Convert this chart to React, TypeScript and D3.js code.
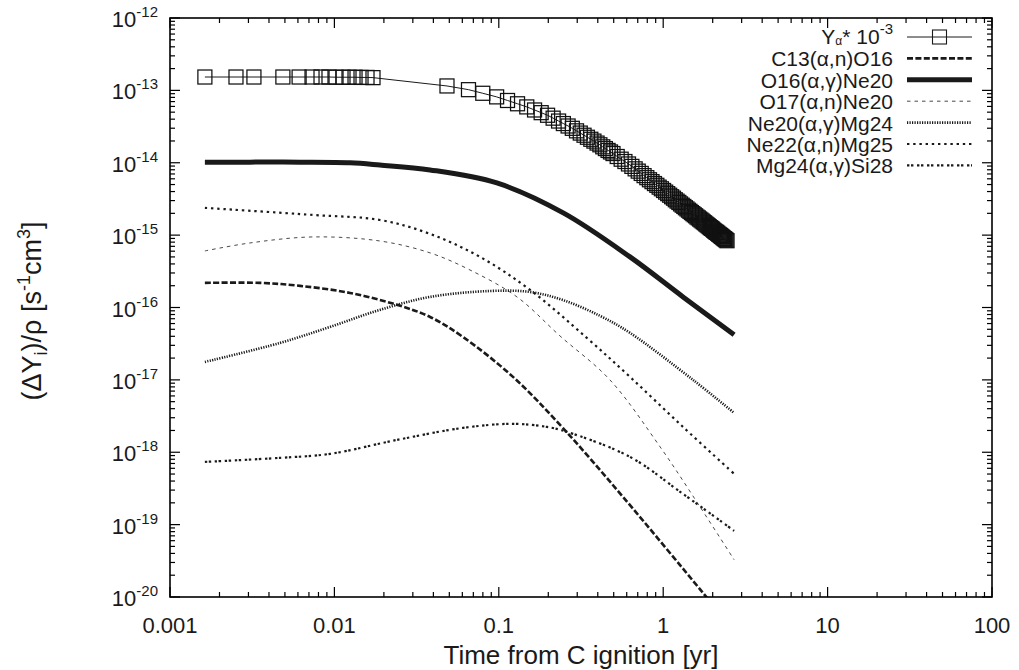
import React from 'react';
import * as d3 from 'd3';

const W = 1019, H = 670;
const PL = 170, PR = 992, PT = 18, PB = 597;
const FONT = 'Liberation Sans, Arial, Helvetica, sans-serif';

// X tick values / labels
const xTickVals = [0.001, 0.01, 0.1, 1, 10, 100];
const xTickLabels = ['0.001', '0.01', '0.1', '1', '10', '100'];
// Y tick exponents
const yTickExps = [-12, -13, -14, -15, -16, -17, -18, -19, -20];

// Y_alpha * 1e-3 (marker at each point)
const yaT = [0.00163, 0.00252, 0.00324, 0.00486, 0.0061, 0.00731, 0.00829, 0.00927, 0.01023, 0.01128, 0.01227, 0.01335, 0.01452, 0.01579, 0.01717,
  0.0484, 0.0654, 0.0799, 0.097, 0.113, 0.13, 0.148, 0.165, 0.181, 0.198, 0.214, 0.231, 0.247, 0.264, 0.28, 0.297, 0.313, 0.33, 0.346, 0.363, 0.379, 0.396, 0.412, 0.429, 0.445, 0.462, 0.478, 0.495,
  0.525, 0.555, 0.585, 0.615, 0.645, 0.675, 0.705, 0.735, 0.765, 0.795, 0.825, 0.855, 0.885, 0.915, 0.945, 0.975, 1.005, 1.035, 1.065, 1.095, 1.125, 1.155, 1.185, 1.215, 1.245, 1.275, 1.305, 1.335, 1.365, 1.395, 1.425, 1.455, 1.485, 1.515, 1.545, 1.575, 1.605, 1.635, 1.665, 1.695, 1.725, 1.755, 1.785, 1.815, 1.845, 1.875, 1.905, 1.935, 1.965, 1.995, 2.025, 2.055, 2.085, 2.115, 2.145, 2.175, 2.205, 2.235, 2.265, 2.295, 2.325, 2.355, 2.385, 2.415, 2.445];
const yaV = [1.53e-13, 1.53e-13, 1.53e-13, 1.53e-13, 1.53e-13, 1.53e-13, 1.53e-13, 1.53e-13, 1.52e-13, 1.52e-13, 1.52e-13, 1.52e-13, 1.51e-13, 1.51e-13, 1.50e-13,
  1.151e-13, 1.023e-13, 9.12e-14, 8.13e-14, 7.25e-14, 6.53e-14, 5.91e-14, 5.36e-14, 4.92e-14, 4.53e-14, 4.13e-14, 3.77e-14, 3.48e-14, 3.22e-14, 2.99e-14, 2.76e-14, 2.57e-14, 2.40e-14, 2.25e-14, 2.11e-14, 1.99e-14, 1.87e-14, 1.77e-14, 1.66e-14, 1.57e-14, 1.48e-14, 1.41e-14, 1.34e-14,
  1.22e-14, 1.12e-14, 1.04e-14, 9.62e-15, 8.91e-15, 8.24e-15, 7.66e-15, 7.12e-15, 6.64e-15, 6.22e-15, 5.82e-15, 5.48e-15, 5.16e-15, 4.88e-15, 4.60e-15, 4.37e-15, 4.14e-15, 3.93e-15, 3.74e-15, 3.56e-15, 3.39e-15, 3.24e-15, 3.08e-15, 2.95e-15, 2.83e-15, 2.70e-15, 2.59e-15, 2.49e-15, 2.39e-15, 2.30e-15, 2.21e-15, 2.13e-15, 2.05e-15, 1.98e-15, 1.91e-15, 1.85e-15, 1.78e-15, 1.73e-15, 1.67e-15, 1.62e-15, 1.57e-15, 1.52e-15, 1.48e-15, 1.43e-15, 1.39e-15, 1.35e-15, 1.31e-15, 1.27e-15, 1.24e-15, 1.21e-15, 1.17e-15, 1.14e-15, 1.11e-15, 1.09e-15, 1.06e-15, 1.03e-15, 1.01e-15, 9.84e-16, 9.60e-16, 9.38e-16, 9.14e-16, 8.95e-16, 8.75e-16, 8.55e-16, 8.37e-16];

const c13T = [0.00163, 0.00352, 0.00618, 0.01245, 0.024, 0.0382, 0.0605, 0.122, 0.245, 0.569, 1.746, 2.7];
const c13V = [2.19e-16, 2.19e-16, 1.99e-16, 1.59e-16, 1.09e-16, 7.4e-17, 3.92e-17, 1.10e-17, 2.17e-18, 2.42e-19, 1.14e-20, 3.4e-21];

const o16T = [0.00163, 0.00306, 0.00617, 0.01245, 0.0189, 0.0382, 0.0973, 0.2466, 0.628, 1.32, 2.7];
const o16V = [1.02e-14, 1.02e-14, 1.02e-14, 1.0e-14, 9.3e-15, 7.96e-15, 5.26e-15, 2.03e-15, 5.0e-16, 1.40e-16, 4.19e-17];

const o17T = [0.00163, 0.00307, 0.00741, 0.0189, 0.0382, 0.0668, 0.129, 0.2355, 0.474, 0.957, 1.675, 2.7];
const o17V = [6.05e-16, 7.8e-16, 9.44e-16, 8.3e-16, 5.68e-16, 3.30e-16, 1.40e-16, 4.05e-17, 1.0e-17, 1.19e-18, 1.76e-19, 3.27e-20];

const ne20T = [0.00163, 0.00467, 0.0094, 0.0189, 0.0382, 0.0883, 0.155, 0.245, 0.413, 0.628, 1.518, 2.7];
const ne20V = [1.77e-17, 3.24e-17, 5.39e-17, 9.27e-17, 1.40e-16, 1.69e-16, 1.64e-16, 1.27e-16, 7.66e-17, 4.46e-17, 1.0e-17, 3.5e-18];

const ne22T = [0.00163, 0.00741, 0.0189, 0.0382, 0.0769, 0.155, 0.343, 0.628, 1.319, 2.7];
const ne22V = [2.38e-15, 1.90e-15, 1.62e-15, 1.04e-15, 5.0e-16, 1.75e-16, 3.80e-17, 1.10e-17, 2.24e-18, 5.04e-19];

const mg24T = [0.00163, 0.00467, 0.0094, 0.024, 0.0605, 0.122, 0.196, 0.26, 0.628, 1.319, 2.7];
const mg24V = [7.36e-19, 8.37e-19, 9.5e-19, 1.48e-18, 2.17e-18, 2.47e-18, 2.24e-18, 1.91e-18, 8.63e-19, 2.66e-19, 8.2e-20];

const zip = (t: number[], v: number[]) => t.slice(0, Math.min(t.length, v.length)).map((d, i) => [d, v[i]] as [number, number]);

type Series = { key: string; pts: [number, number][]; width: number; dash?: string; label: React.ReactNode };

export default function App() {
  const x = d3.scaleLog().domain([0.001, 100]).range([PL, PR]);
  const y = d3.scaleLog().domain([1e-20, 1e-12]).range([PB, PT]);
  const smooth = d3.line<[number, number]>().x(d => x(d[0])).y(d => y(d[1])).curve(d3.curveCatmullRom.alpha(0.5));
  const straight = d3.line<[number, number]>().x(d => x(d[0])).y(d => y(d[1]));

  const alpha = '\u03B1', gamma = '\u03B3';
  const series: Series[] = [
    { key: 'c13', pts: zip(c13T, c13V), width: 2.6, dash: '6,2.4', label: <>C13({alpha},n)O16</> },
    { key: 'o16', pts: zip(o16T, o16V), width: 5, label: <>O16({alpha},{gamma})Ne20</> },
    { key: 'o17', pts: zip(o17T, o17V), width: 0.8, dash: '3.5,4', label: <>O17({alpha},n)Ne20</> },
    { key: 'ne20', pts: zip(ne20T, ne20V), width: 2.6, dash: '1.2,1.3', label: <>Ne20({alpha},{gamma})Mg24</> },
    { key: 'ne22', pts: zip(ne22T, ne22V), width: 2.2, dash: '2.4,3.8', label: <>Ne22({alpha},n)Mg25</> },
    { key: 'mg24', pts: zip(mg24T, mg24V), width: 2.2, dash: '2.4,1.6,2.4,3.6', label: <>Mg24({alpha},{gamma})Si28</> },
  ];
  const ya = zip(yaT, yaV);

  // minor ticks
  const xMinor: number[] = [];
  for (let e = -3; e < 2; e++) for (let k = 2; k <= 9; k++) xMinor.push(k * Math.pow(10, e));
  const yMinor: number[] = [];
  for (let e = -20; e < -12; e++) for (let k = 2; k <= 9; k++) yMinor.push(k * Math.pow(10, e));

  const ink = '#1a1a1a';
  const legX0 = 907, legX1 = 972, legTextX = 893;
  const rowY = (i: number) => 37 + i * 21.4;
  const SQ = 14;

  return (
    <svg width={W} height={H} style={{ position: 'absolute', left: 0, top: 0, background: '#fff' }} fontFamily={FONT}>
      <defs>
        <clipPath id="plotclip"><rect x={PL} y={PT} width={PR - PL} height={PB - PT} /></clipPath>
      </defs>
      <rect x={0} y={0} width={W} height={H} fill="#fff" />

      {/* ticks */}
      <g stroke="#000" strokeWidth={1.2}>
        {xTickVals.map(v => (
          <g key={'xt' + v}>
            <line x1={x(v)} x2={x(v)} y1={PB} y2={PB - 10} />
            <line x1={x(v)} x2={x(v)} y1={PT} y2={PT + 10} />
          </g>
        ))}
        {xMinor.map(v => (
          <g key={'xm' + v}>
            <line x1={x(v)} x2={x(v)} y1={PB} y2={PB - 5} />
            <line x1={x(v)} x2={x(v)} y1={PT} y2={PT + 5} />
          </g>
        ))}
        {yTickExps.map(e => (
          <g key={'yt' + e}>
            <line x1={PL} x2={PL + 10} y1={y(Math.pow(10, e))} y2={y(Math.pow(10, e))} />
            <line x1={PR} x2={PR - 10} y1={y(Math.pow(10, e))} y2={y(Math.pow(10, e))} />
          </g>
        ))}
        {yMinor.map((v, i) => (
          <g key={'ym' + i}>
            <line x1={PL} x2={PL + 5} y1={y(v)} y2={y(v)} />
            <line x1={PR} x2={PR - 5} y1={y(v)} y2={y(v)} />
          </g>
        ))}
      </g>

      {/* curves */}
      <g clipPath="url(#plotclip)" fill="none" stroke={ink}>
        {series.map(s => (
          <path key={s.key} d={smooth(s.pts) || ''} strokeWidth={s.width} strokeDasharray={s.dash} />
        ))}
        <path d={straight(ya) || ''} strokeWidth={1} />
        {ya.map((d, i) => (
          <rect key={'sq' + i} x={x(d[0]) - SQ / 2} y={y(d[1]) - SQ / 2} width={SQ} height={SQ} strokeWidth={1.25} fill="none" stroke="#111" />
        ))}
      </g>

      {/* frame */}
      <rect x={PL} y={PT} width={PR - PL} height={PB - PT} fill="none" stroke="#000" strokeWidth={1.6} />

      {/* y tick labels */}
      {yTickExps.map(e => (
        <text key={'yl' + e} x={158} y={y(Math.pow(10, e)) + 9} textAnchor="end" fontSize={22} fill={ink}>
          10<tspan dy={-10} fontSize={15}>{String(e)}</tspan>
        </text>
      ))}
      {/* x tick labels */}
      {xTickVals.map((v, i) => (
        <text key={'xl' + v} x={x(v)} y={633} textAnchor="middle" fontSize={22} fill={ink}>{xTickLabels[i]}</text>
      ))}

      {/* axis titles */}
      <text x={(PL + PR) / 2} y={664} textAnchor="middle" fontSize={26} fill={ink}>Time from C ignition [yr]</text>
      <text transform={`translate(41,311) rotate(-90)`} textAnchor="middle" fontSize={27} fill={ink}>
        ({'\u0394'}Y<tspan dy={6} fontSize={18}>i</tspan><tspan dy={-6}>)/{'\u03C1'} [s</tspan><tspan dy={-11} fontSize={18}>-1</tspan><tspan dy={11}>cm</tspan><tspan dy={-11} fontSize={18}>3</tspan><tspan dy={11}>]</tspan>
      </text>

      {/* legend */}
      <g fill={ink}>
        <text x={legTextX} y={rowY(0) + 7} textAnchor="end" fontSize={21}>
          Y<tspan dy={0.5} fontSize={12}>{alpha}</tspan><tspan dy={-0.5}>* 10</tspan><tspan dy={-10} fontSize={15}>-3</tspan>
        </text>
        <line x1={legX0} x2={legX1} y1={rowY(0)} y2={rowY(0)} stroke={ink} strokeWidth={1} />
        <rect x={(legX0 + legX1) / 2 - SQ / 2} y={rowY(0) - SQ / 2} width={SQ} height={SQ} fill="none" stroke={ink} strokeWidth={1.1} />
        {series.map((s, i) => (
          <g key={'lg' + s.key}>
            <text x={legTextX} y={rowY(i + 1) + 8} textAnchor="end" fontSize={21}>{s.label}</text>
            <line x1={legX0} x2={legX1} y1={rowY(i + 1)} y2={rowY(i + 1)} stroke={ink} strokeWidth={s.width} strokeDasharray={s.dash} />
          </g>
        ))}
      </g>
    </svg>
  );
}
